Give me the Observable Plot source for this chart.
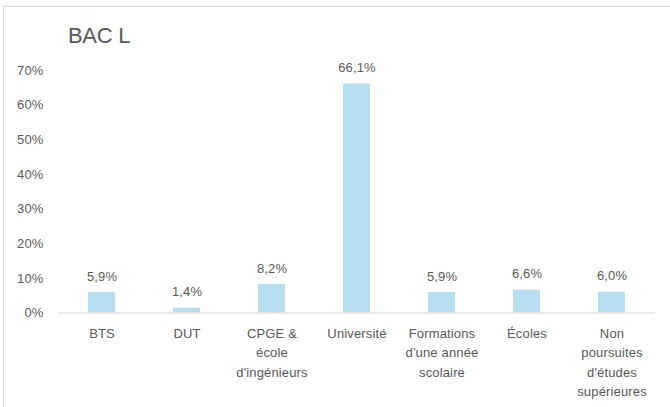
<!DOCTYPE html>
<html>
<head>
<meta charset="utf-8">
<script src="https://cdn.jsdelivr.net/npm/d3@7"></script>
<script src="https://cdn.jsdelivr.net/npm/@observablehq/plot@0.6"></script>
<style>
  html, body { margin: 0; padding: 0; background: #fff; }
  #wrap { position: relative; width: 670px; height: 407px; overflow: hidden; font-family: "Liberation Sans", Arial, sans-serif; }
  #frame { position: absolute; left: 3px; top: 6px; width: 700px; height: 420px; border-top: 1px solid #d9d9d9; border-left: 1px solid #d9d9d9; box-sizing: border-box; }
  #title { position: absolute; left: 68px; top: 23px; font-size: 22px; color: #595959; letter-spacing: -0.3px; }
  #chart { position: absolute; left: 0; top: 0; }
  #chart text { letter-spacing: 0.15px; }
</style>
</head>
<body>
<div id="wrap">
  <div id="frame"></div>
  <div id="chart"></div>
  <div id="title">BAC L</div>
</div>
<script>
const categories = ["BTS", "DUT", "CPGE & école d'ingénieurs", "Université", "Formations d'une année scolaire", "Écoles", "Non poursuites d'études supérieures"];
const tickLabels = ["BTS", "DUT", "CPGE &\nécole\nd'ingénieurs", "Université", "Formations\nd'une année\nscolaire", "Écoles", "Non\npoursuites\nd'études\nsupérieures"];
const values = [5.9, 1.4, 8.2, 66.1, 5.9, 6.6, 6.0];
const valueLabels = ["5,9%", "1,4%", "8,2%", "66,1%", "5,9%", "6,6%", "6,0%"];
const yTicks = [0, 10, 20, 30, 40, 50, 60, 70];

const data = categories.map((c, i) => ({cat: c, value: values[i], label: valueLabels[i], tick: tickLabels[i]}));

const textColor = "#595959";
const plot = Plot.plot({
  width: 670,
  height: 407,
  marginLeft: 58,
  marginRight: 15,
  marginTop: 70,
  marginBottom: 94.5,
  style: {fontFamily: "'Liberation Sans', Arial, sans-serif", fontSize: "13px", color: textColor, background: "transparent"},
  x: {domain: categories, paddingInner: 0.68, paddingOuter: 0.34, axis: null},
  y: {domain: [0, 70], axis: null},
  marks: [
    Plot.barY(data, {x: "cat", y: "value", fill: "#b7dff0"}),
    Plot.ruleY([0], {stroke: "#d9d9d9", strokeWidth: 1}),
    Plot.axisY(yTicks, {tickSize: 0, tickPadding: 15, tickFormat: d => d + "%", fill: textColor, fontSize: 13, label: null}),
    Plot.text(data, {x: "cat", y: "value", text: "label", lineAnchor: "bottom", dy: -12, fill: textColor, fontSize: 13}),
    Plot.text(data, {x: "cat", text: "tick", frameAnchor: "bottom", lineAnchor: "top", dy: 11.5, lineHeight: 1.48, fill: textColor, fontSize: 13})
  ]
});
document.getElementById("chart").appendChild(plot);
</script>
</body>
</html>
